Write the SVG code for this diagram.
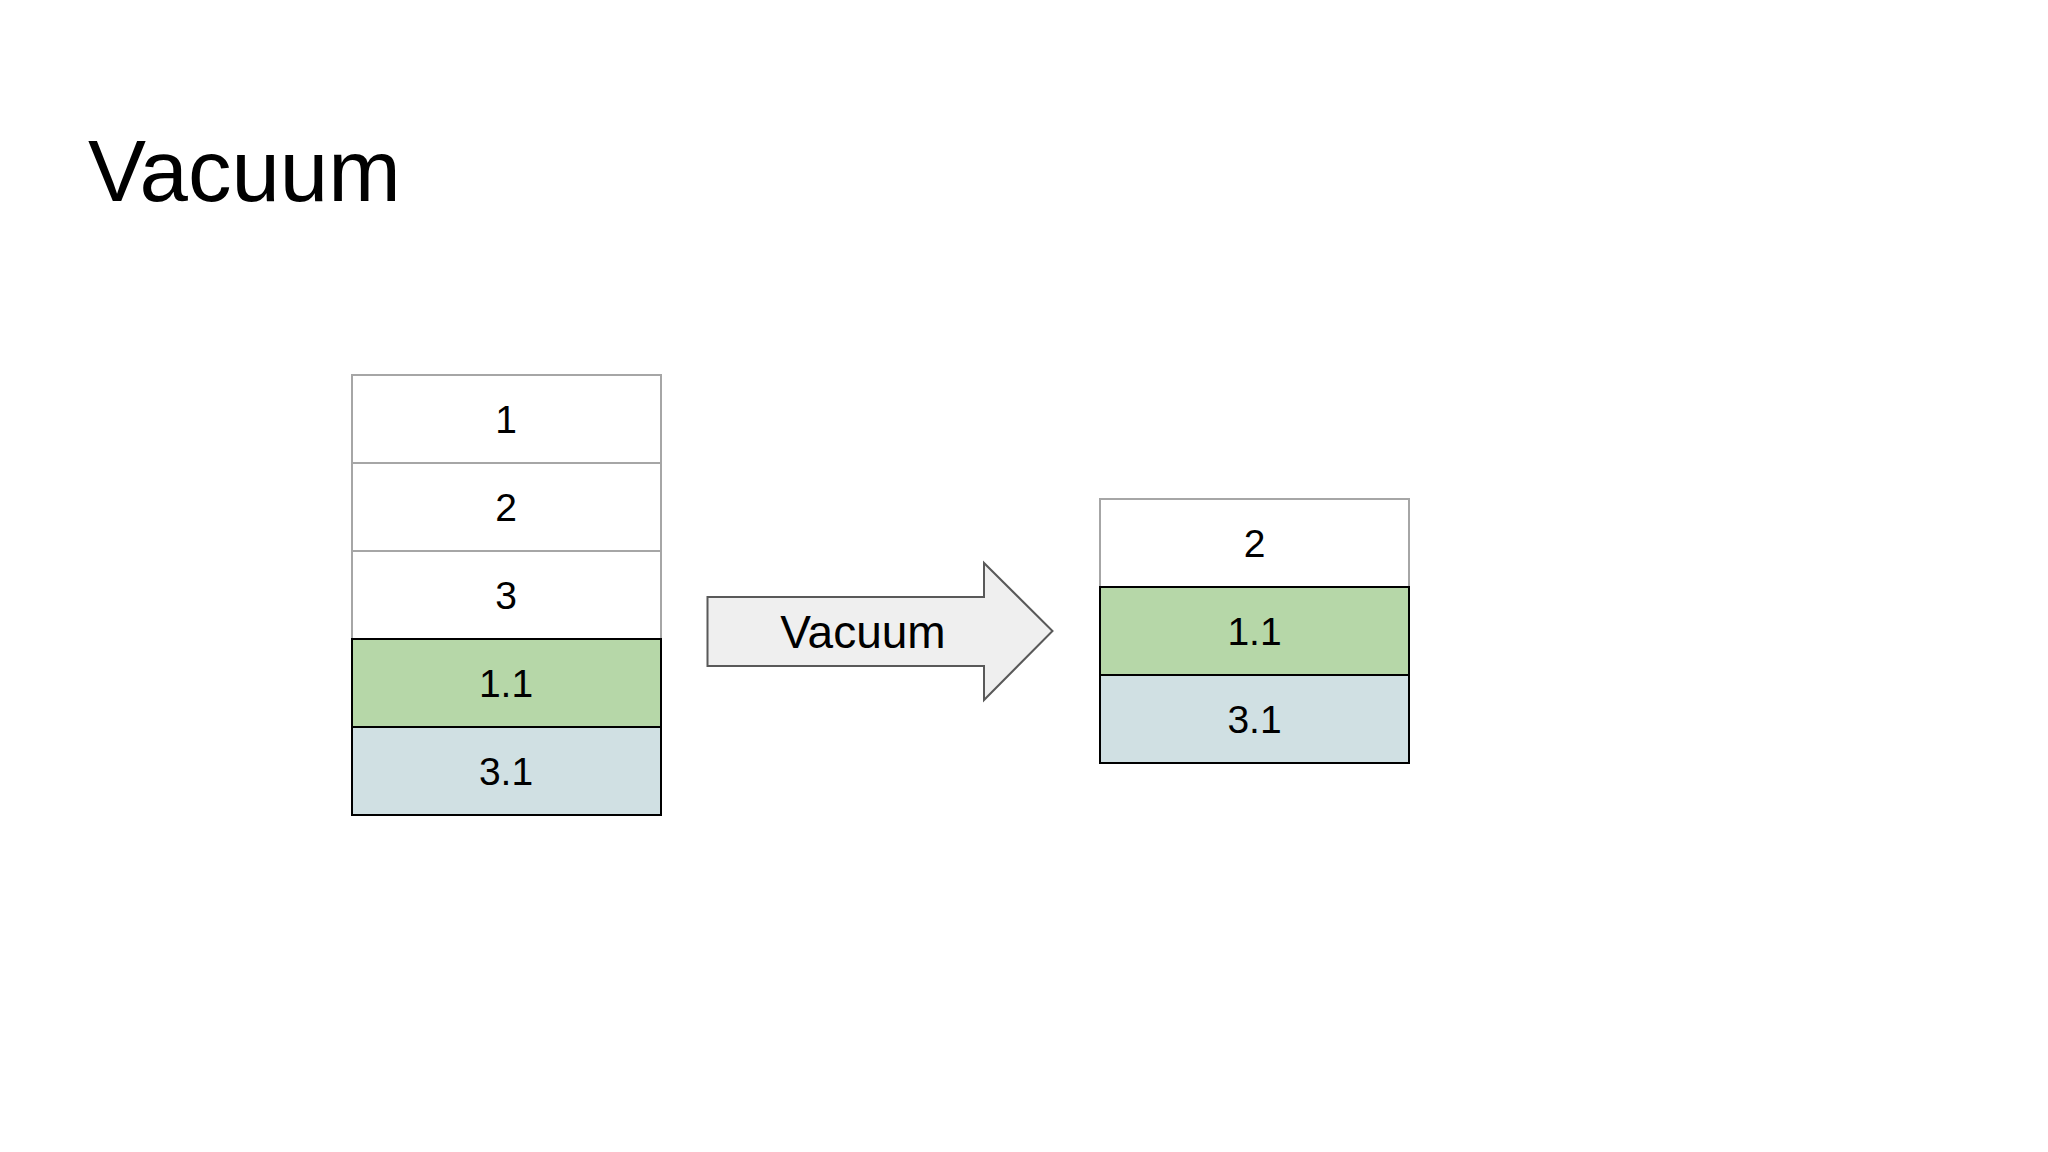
<svg xmlns="http://www.w3.org/2000/svg" width="2048" height="1152" viewBox="0 0 2048 1152">
  <style>
    text { font-family: "Liberation Sans", Arial, sans-serif; fill: #000; }
    .lbl { font-size: 39px; text-anchor: middle; }
    .plain { fill: #ffffff; stroke: #a6a6a6; stroke-width: 2; }
    .green { fill: #b6d7a8; stroke: #000000; stroke-width: 2; }
    .blue { fill: #d0e0e3; stroke: #000000; stroke-width: 2; }
    .arrow { fill: #efefef; stroke: #595959; stroke-width: 2; }
  </style>
  <rect width="2048" height="1152" fill="#ffffff"/>
  <text x="88" y="201" font-size="87">Vacuum</text>

  <g id="before">
    <g id="b1"><rect class="plain" x="352" y="375" width="309" height="88"/><text class="lbl" x="506" y="433">1</text></g>
    <g id="b2"><rect class="plain" x="352" y="463" width="309" height="88"/><text class="lbl" x="506" y="521">2</text></g>
    <g id="b3"><rect class="plain" x="352" y="551" width="309" height="88"/><text class="lbl" x="506" y="609">3</text></g>
    <g id="b11"><rect class="green" x="352" y="639" width="309" height="88"/><text class="lbl" x="506" y="697">1.1</text></g>
    <g id="b31"><rect class="blue" x="352" y="727" width="309" height="88"/><text class="lbl" x="506" y="785">3.1</text></g>
  </g>

  <g id="connectors">
    <g id="vacuum-arrow">
      <polygon class="arrow" points="707.5,597 984,597 984,563 1052.5,631 984,700 984,666 707.5,666"/>
      <text x="863" y="648" font-size="46" text-anchor="middle">Vacuum</text>
    </g>
  </g>

  <g id="after">
    <g id="a2"><rect class="plain" x="1100" y="499" width="309" height="88"/><text class="lbl" x="1254.5" y="557">2</text></g>
    <g id="a11"><rect class="green" x="1100" y="587" width="309" height="88"/><text class="lbl" x="1254.5" y="645">1.1</text></g>
    <g id="a31"><rect class="blue" x="1100" y="675" width="309" height="88"/><text class="lbl" x="1254.5" y="733">3.1</text></g>
  </g>
</svg>
